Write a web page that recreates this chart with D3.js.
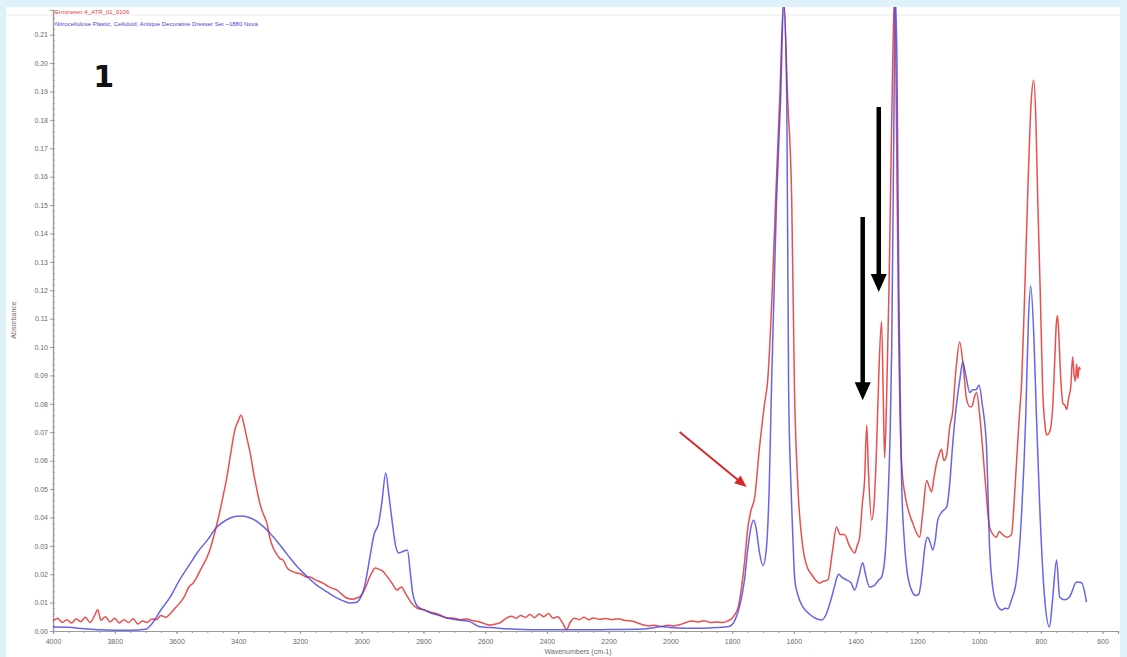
<!DOCTYPE html>
<html>
<head>
<meta charset="utf-8">
<script src="https://cdn.jsdelivr.net/npm/d3@7"></script>
<style>
  html, body { margin: 0; padding: 0; background: #dff1fa; overflow: hidden; }
  svg { display: block; }
</style>
</head>
<body>
<script>
// spectrum names shown in the top-left legend
var sampleName = "Ermineren 4_ATR_01_0106";
var referenceName = "Nitrocellulose Plastic, Celluloid, Antique Decorative Dresser Set ~1880 Nova";

var xTicks = [4000, 3800, 3600, 3400, 3200, 3000, 2800, 2600, 2400, 2200, 2000, 1800, 1600, 1400, 1200, 1000, 800, 600];
var yTicks = [0, 0.01, 0.02, 0.03, 0.04, 0.05, 0.06, 0.07, 0.08, 0.09, 0.10, 0.11, 0.12, 0.13, 0.14, 0.15, 0.16, 0.17, 0.18, 0.19, 0.20, 0.21];

// red spectrum (sample): [wavenumber, absorbance]
var sample = [
  [4000,0.0035],[3985,0.0045],[3970,0.0030],[3955,0.0040],[3940,0.0028],[3925,0.0042],[3910,0.0033],
  [3895,0.0048],[3880,0.0030],[3865,0.0055],[3855,0.0075],[3845,0.0038],[3830,0.0050],[3815,0.0032],
  [3800,0.0045],[3785,0.0028],[3770,0.0040],[3755,0.0030],[3740,0.0043],[3725,0.0025],[3710,0.0035],
  [3695,0.0030],[3680,0.0042],[3665,0.0040],[3650,0.0055],[3635,0.0048],[3621,0.0060],[3605,0.0080],
  [3589,0.0099],[3575,0.0120],[3560,0.0155],[3545,0.0170],[3534,0.0190],[3520,0.0220],[3505,0.0250],
  [3492,0.0285],[3480,0.0330],[3466,0.0390],[3450,0.0470],[3437,0.0540],[3425,0.0620],[3411,0.0708],
  [3400,0.0740],[3391,0.0760],[3380,0.0720],[3372,0.0680],[3360,0.0620],[3352,0.0567],[3340,0.0500],
  [3330,0.0450],[3318,0.0410],[3307,0.0380],[3298,0.0330],[3288,0.0296],[3275,0.0270],[3265,0.0255],
  [3255,0.0250],[3240,0.0220],[3225,0.0210],[3210,0.0204],[3195,0.0200],[3180,0.0190],[3168,0.0190],
  [3150,0.0180],[3140,0.0175],[3126,0.0169],[3110,0.0158],[3095,0.0150],[3080,0.0144],[3065,0.0130],
  [3048,0.0116],[3030,0.0112],[3016,0.0116],[3005,0.0122],[2996,0.0134],[2985,0.0160],[2974,0.0190],
  [2965,0.0210],[2957,0.0222],[2945,0.0218],[2931,0.0210],[2920,0.0195],[2909,0.0180],[2897,0.0160],
  [2886,0.0144],[2878,0.0150],[2870,0.0155],[2862,0.0140],[2854,0.0125],[2840,0.0100],[2821,0.0081],
  [2800,0.0075],[2779,0.0067],[2750,0.0058],[2724,0.0046],[2700,0.0045],[2680,0.0040],[2660,0.0042],
  [2640,0.0036],[2617,0.0032],[2600,0.0025],[2585,0.0021],[2570,0.0024],[2550,0.0030],[2530,0.0046],
  [2515,0.0052],[2500,0.0045],[2485,0.0055],[2470,0.0048],[2455,0.0058],[2440,0.0047],[2425,0.0060],
  [2410,0.0050],[2395,0.0062],[2380,0.0045],[2365,0.0050],[2350,0.0030],[2336,0.0005],[2325,0.0030],
  [2310,0.0045],[2295,0.0040],[2280,0.0048],[2265,0.0040],[2250,0.0046],[2230,0.0041],[2210,0.0044],
  [2190,0.0040],[2170,0.0043],[2150,0.0038],[2130,0.0036],[2110,0.0030],[2090,0.0022],[2070,0.0018],
  [2050,0.0020],[2030,0.0016],[2010,0.0020],[1990,0.0018],[1970,0.0022],[1950,0.0030],[1930,0.0035],
  [1910,0.0032],[1890,0.0036],[1870,0.0030],[1850,0.0032],[1830,0.0030],[1815,0.0035],[1800,0.0045],
  [1790,0.0060],[1780,0.0085],[1770,0.0150],[1760,0.0240],[1750,0.0356],[1740,0.0420],[1727,0.0470],
  [1711,0.0650],[1695,0.0800],[1685,0.0880],[1670,0.1200],[1659,0.1520],[1646,0.1870],[1633,0.2220],
  [1620,0.1870],[1607,0.1520],[1598,0.0850],[1588,0.0530],[1571,0.0296],[1555,0.0220],[1543,0.0200],
  [1530,0.0180],[1516,0.0169],[1505,0.0175],[1490,0.0180],[1475,0.0280],[1462,0.0366],[1450,0.0340],
  [1436,0.0340],[1420,0.0300],[1403,0.0275],[1395,0.0300],[1387,0.0330],[1378,0.0450],[1371,0.0530],
  [1364,0.0725],[1358,0.0550],[1348,0.0390],[1340,0.0450],[1332,0.0650],[1325,0.0900],[1316,0.1090],
  [1310,0.0800],[1306,0.0610],[1300,0.0800],[1292,0.1200],[1283,0.1800],[1274,0.2250],[1265,0.1500],
  [1260,0.1000],[1256,0.0750],[1251,0.0590],[1240,0.0480],[1232,0.0437],[1215,0.0380],[1200,0.0340],
  [1193,0.0330],[1182,0.0420],[1170,0.0530],[1162,0.0510],[1154,0.0490],[1146,0.0540],[1138,0.0590],
  [1130,0.0620],[1122,0.0640],[1114,0.0600],[1105,0.0620],[1095,0.0720],[1086,0.0768],[1075,0.0920],
  [1063,0.1018],[1052,0.0940],[1041,0.0820],[1030,0.0790],[1024,0.0790],[1016,0.0820],[1008,0.0840],
  [998,0.0760],[989,0.0650],[978,0.0500],[966,0.0366],[955,0.0340],[944,0.0330],[935,0.0350],
  [924,0.0340],[910,0.0330],[895,0.0340],[885,0.0480],[879,0.0590],[870,0.0750],[862,0.0880],
  [852,0.1200],[843,0.1520],[831,0.1870],[823,0.1940],[816,0.1800],[810,0.1520],[802,0.1200],
  [794,0.0850],[786,0.0720],[781,0.0690],[772,0.0700],[762,0.0780],[755,0.0950],[750,0.1080],
  [746,0.1110],[742,0.1050],[735,0.0880],[728,0.0800],[722,0.0795],[716,0.0780],[710,0.0820],
  [703,0.0860],[697,0.0965],[692,0.0900],[688,0.0880],[684,0.0940],[680,0.0890],[676,0.0930],[672,0.0920]
];

// blue spectrum (library reference): [wavenumber, absorbance]
var reference = [
  [4000,0.0014],[3950,0.0013],[3900,0.0008],[3850,0.0004],[3800,0.0003],[3750,0.0003],[3700,0.0006],
  [3680,0.0025],[3650,0.0075],[3620,0.0120],[3590,0.0180],[3560,0.0230],[3530,0.0280],[3500,0.0320],
  [3470,0.0365],[3440,0.0390],[3410,0.0403],[3390,0.0405],[3360,0.0398],[3330,0.0378],[3300,0.0348],
  [3270,0.0310],[3240,0.0268],[3210,0.0228],[3180,0.0195],[3150,0.0165],[3120,0.0143],[3090,0.0122],
  [3060,0.0106],[3040,0.0099],[3020,0.0100],[3005,0.0115],[2990,0.0160],[2975,0.0250],[2960,0.0340],
  [2945,0.0380],[2935,0.0450],[2922,0.0556],[2912,0.0480],[2903,0.0400],[2890,0.0300],[2880,0.0275],
  [2867,0.0280],[2852,0.0285],[2842,0.0200],[2835,0.0135],[2820,0.0088],[2800,0.0075],[2780,0.0065],
  [2750,0.0055],[2720,0.0045],[2680,0.0038],[2650,0.0033],[2617,0.0015],[2580,0.0012],[2500,0.0006],
  [2400,0.0004],[2300,0.0004],[2200,0.0005],[2100,0.0006],[2050,0.0012],[2030,0.0016],[2000,0.0012],
  [1950,0.0010],[1900,0.0010],[1850,0.0012],[1810,0.0016],[1790,0.0040],[1775,0.0090],[1760,0.0180],
  [1748,0.0300],[1738,0.0370],[1730,0.0390],[1722,0.0360],[1712,0.0280],[1700,0.0230],[1690,0.0280],
  [1680,0.0500],[1672,0.0880],[1656,0.1520],[1643,0.1870],[1633,0.2220],[1623,0.1870],[1617,0.0850],
  [1610,0.0530],[1603,0.0320],[1597,0.0180],[1585,0.0120],[1571,0.0085],[1550,0.0060],[1530,0.0045],
  [1510,0.0039],[1495,0.0060],[1480,0.0110],[1470,0.0150],[1460,0.0190],[1455,0.0200],[1445,0.0190],
  [1430,0.0180],[1415,0.0170],[1403,0.0144],[1390,0.0190],[1377,0.0240],[1368,0.0200],[1355,0.0155],
  [1340,0.0160],[1325,0.0180],[1316,0.0190],[1305,0.0260],[1296,0.0440],[1288,0.0700],[1283,0.1000],
  [1276,0.1800],[1272,0.2250],[1266,0.2000],[1260,0.1200],[1256,0.0880],[1251,0.0530],[1243,0.0330],
  [1235,0.0225],[1219,0.0144],[1205,0.0125],[1195,0.0130],[1185,0.0200],[1175,0.0300],[1167,0.0330],
  [1158,0.0310],[1150,0.0285],[1142,0.0320],[1134,0.0390],[1120,0.0420],[1105,0.0437],[1095,0.0520],
  [1086,0.0650],[1075,0.0780],[1063,0.0880],[1053,0.0947],[1043,0.0900],[1030,0.0840],[1020,0.0850],
  [1010,0.0850],[1000,0.0866],[990,0.0800],[976,0.0650],[966,0.0296],[956,0.0155],[945,0.0100],
  [935,0.0080],[927,0.0074],[915,0.0080],[907,0.0078],[895,0.0110],[879,0.0180],[862,0.0420],
  [849,0.0750],[840,0.1100],[833,0.1215],[823,0.1050],[814,0.0750],[804,0.0450],[788,0.0120],
  [772,0.0014],[762,0.0110],[749,0.0250],[739,0.0120],[723,0.0110],[707,0.0120],[684,0.0173],
  [668,0.0170],[652,0.0102]
];

// annotation arrows in data coordinates: [wavenumber, absorbance]
var arrows = [
  {from: [1325, 0.1845], to: [1325, 0.1194], color: "#000000", width: 4.5, head: [18, 16]},
  {from: [1377, 0.1458], to: [1377, 0.0813], color: "#000000", width: 4.5, head: [18, 16]},
  {from: [1970, 0.0701], to: [1753, 0.0507], color: "#d42a2a", width: 2, head: [12, 10]}
];

var width = 1127, height = 657;
var margin = {top: 10, right: 9, bottom: 26, left: 53};

var x = d3.scaleLinear().domain([4000, 550]).range([margin.left, width - margin.right]);
var y = d3.scaleLinear().domain([0, 0.2187]).range([height - margin.bottom, margin.top]);

var svg = d3.select("body").append("svg")
  .attr("width", width)
  .attr("height", height)
  .style("font-family", "Arial, 'Liberation Sans', sans-serif");

// white panel on the light blue page
svg.append("rect")
  .attr("x", 6).attr("y", 7)
  .attr("width", 1114).attr("height", 660)
  .attr("fill", "#ffffff");
svg.append("line")
  .attr("x1", 6).attr("x2", 1120).attr("y1", 15).attr("y2", 15)
  .attr("stroke", "#ececec").attr("stroke-width", 1);

svg.append("defs").append("clipPath").attr("id", "plot")
  .append("rect")
  .attr("x", margin.left).attr("y", 7)
  .attr("width", width - margin.left - margin.right)
  .attr("height", height - margin.bottom - 7 + 1);

// axes
var axisColor = "#9a9a9a", labelColor = "#6a6a6a";

var yAxis = svg.append("g")
  .attr("transform", "translate(" + margin.left + ",0)")
  .call(d3.axisLeft(y).tickValues(yTicks).tickFormat(d3.format(".2f")).tickSize(3).tickPadding(2));
var yMinor = svg.append("g")
  .attr("transform", "translate(" + margin.left + ",0)")
  .call(d3.axisRight(y).tickValues(d3.range(0, 0.2187, 0.002)).tickFormat("").tickSize(2));

var xAxis = svg.append("g")
  .attr("transform", "translate(0," + (height - margin.bottom) + ")")
  .call(d3.axisBottom(x).tickValues(xTicks).tickFormat(d3.format("d")).tickSize(3).tickPadding(5));
var xMinor = svg.append("g")
  .attr("transform", "translate(0," + (height - margin.bottom) + ")")
  .call(d3.axisBottom(x).tickValues(d3.range(4000, 549, -50)).tickFormat("").tickSize(2));

[yAxis, yMinor, xAxis, xMinor].forEach(function(g) {
  g.select(".domain").attr("stroke", axisColor).attr("stroke-width", 1.2);
  g.selectAll(".tick line").attr("stroke", axisColor);
  g.selectAll(".tick text").attr("fill", labelColor).attr("font-size", "7px");
});

// axis titles
svg.append("text")
  .attr("transform", "translate(16,320) rotate(-90)")
  .attr("text-anchor", "middle")
  .attr("font-size", "7px")
  .attr("fill", labelColor)
  .text("Absorbance");
svg.append("text")
  .attr("x", 578).attr("y", 654)
  .attr("text-anchor", "middle")
  .attr("font-size", "7px")
  .attr("fill", labelColor)
  .text("Wavenumbers (cm-1)");

// spectra
var line = d3.line()
  .x(function(d) { return x(d[0]); })
  .y(function(d) { return y(d[1]); })
  .curve(d3.curveMonotoneX);

var plot = svg.append("g").attr("clip-path", "url(#plot)");
plot.append("path")
  .datum(sample)
  .attr("d", line)
  .attr("fill", "none")
  .attr("stroke", "#e63c3c")
  .attr("stroke-opacity", 0.9)
  .attr("stroke-width", 1.5);
plot.append("path")
  .datum(reference)
  .attr("d", line)
  .attr("fill", "none")
  .attr("stroke", "#3f3fe6")
  .attr("stroke-opacity", 0.8)
  .attr("stroke-width", 1.5);

// legend text at the top
svg.append("text")
  .attr("x", 55).attr("y", 14)
  .attr("font-size", "6px").attr("fill", "#e04040")
  .text(sampleName);
svg.append("text")
  .attr("x", 55).attr("y", 26)
  .attr("font-size", "6px").attr("fill", "#4848d8")
  .text(referenceName);

// figure number
svg.append("text")
  .attr("x", x(3870)).attr("y", y(0.1915))
  .attr("font-size", "30px")
  .attr("font-weight", "bold")
  .attr("font-family", "'DejaVu Sans', sans-serif")
  .attr("fill", "#111")
  .text("1");

// arrows
arrows.forEach(function(a) {
  var x1 = x(a.from[0]), y1 = y(a.from[1]);
  var x2 = x(a.to[0]), y2 = y(a.to[1]);
  var len = Math.hypot(x2 - x1, y2 - y1);
  var ux = (x2 - x1) / len, uy = (y2 - y1) / len;
  var hl = a.head[0], hw = a.head[1] / 2;
  var bx = x2 - ux * hl, by = y2 - uy * hl;
  svg.append("line")
    .attr("x1", x1).attr("y1", y1)
    .attr("x2", bx + ux * 2).attr("y2", by + uy * 2)
    .attr("stroke", a.color)
    .attr("stroke-width", a.width);
  svg.append("path")
    .attr("d", "M" + x2 + "," + y2 +
      "L" + (bx - uy * hw) + "," + (by + ux * hw) +
      "L" + (bx + uy * hw) + "," + (by - ux * hw) + "Z")
    .attr("fill", a.color);
});
</script>
</body>
</html>
